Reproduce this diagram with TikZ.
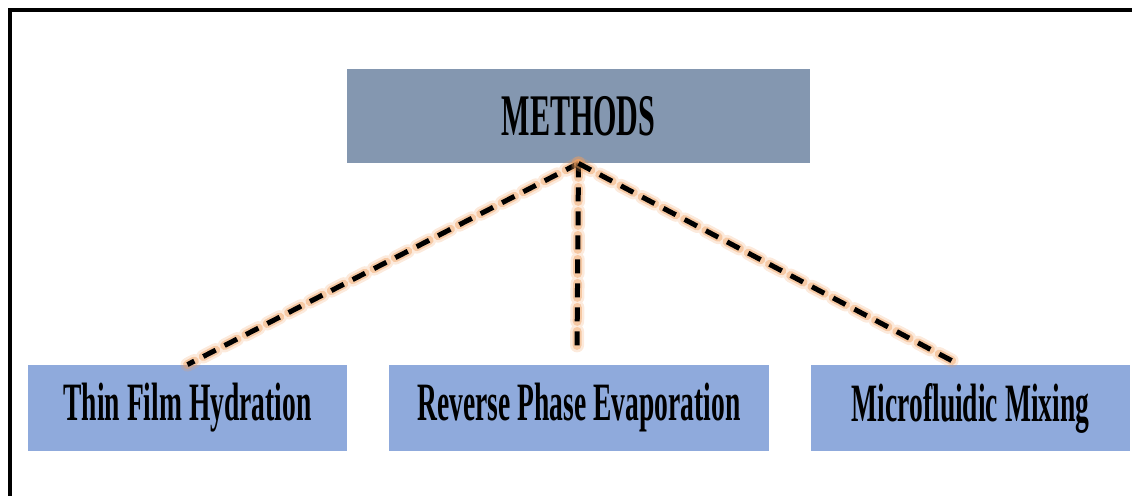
\documentclass[tikz,border=0pt]{standalone}
\usepackage{fontspec}
\setmainfont{Liberation Serif}
\usepackage{tikz}
\definecolor{headblue}{HTML}{8497B0}
\definecolor{methblue}{HTML}{8FAADC}
\definecolor{glow}{HTML}{F0A060}
\newcommand{\narrow}[1]{\scalebox{0.51}[1]{#1}}

\begin{document}
\begin{tikzpicture}[x=0.5pt, y=-0.5pt,
    head/.style={fill=headblue, inner sep=0pt, minimum width=231.5pt, minimum height=47pt,
        font=\fontsize{29.5}{32}\selectfont\bfseries},
    method/.style={fill=methblue, inner sep=0pt, minimum height=43pt,
        font=\fontsize{27}{30}\selectfont\bfseries},
    halo/.style={draw=glow, opacity=0.22, line width=7pt, line cap=round, dash pattern=on 7pt off 5pt},
    innerhalo/.style={draw=glow, opacity=0.45, line width=4.5pt, line cap=round, dash pattern=on 7pt off 5pt},
    link/.style={draw=black, line width=2.5pt, dash pattern=on 7pt off 5pt}]
            \useasboundingbox (0,0) rectangle (1132,496);
            \clip (0,0) rectangle (1132,496);
            \draw[line width=2pt] (10,10) rectangle (1160,520);
            \node[head] (methods) at (578.5,116) {\narrow{METHODS}};
            \node[method, minimum width=159.5pt] (thin) at (187.5,408) {\narrow{Thin Film Hydration}};
            \node[method, minimum width=190pt] (rpe) at (579,408) {\narrow{Reverse Phase Evaporation}};
            \node[method, minimum width=159.5pt] (micro) at (970.5,408) {\narrow{Microfluidic Mixing}};
            \coordinate (rpe end) at (577,350);
            \coordinate (micro end) at (960,365);
            \foreach \target in {thin.north, rpe end, micro end} {
                \path[halo] (methods.south) -- (\target);
                \path[innerhalo] (methods.south) -- (\target);
                \path[link] (methods.south) -- (\target);
            }
        \end{tikzpicture}
\end{document}
